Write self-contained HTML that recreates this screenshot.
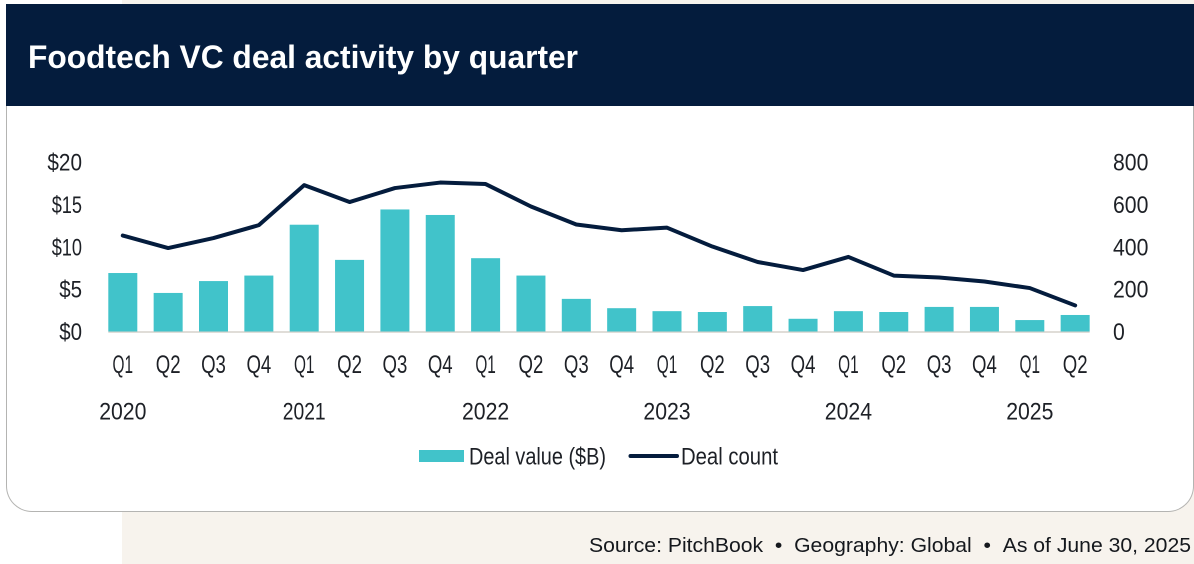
<!DOCTYPE html>
<html lang="en">
<head>
<meta charset="utf-8">
<title>Foodtech VC deal activity by quarter</title>
<style>
html,body{margin:0;padding:0;background:#fff;}
body{width:1194px;height:564px;overflow:hidden;position:relative;font-family:"Liberation Sans",sans-serif;}
#beige{position:absolute;left:122px;top:0;width:1072px;height:564px;background:#f7f3ed;}
#card{position:absolute;left:6px;top:4px;width:1186px;height:507px;background:#fff;border:1px solid #b4b4b2;border-top:none;border-radius:0 0 26px 26px;}
svg{position:absolute;left:0;top:0;}
text{font-family:"Liberation Sans Narrow","Liberation Sans",sans-serif;fill:#1d2026;}
</style>
</head>
<body>
<div id="beige"></div>
<div id="card"></div>
<svg id="chart" width="1194" height="564" viewBox="0 0 1194 564">
  <rect x="6" y="4" width="1188" height="102" fill="#041c3d"/>
  <text x="28" y="68" font-size="32" font-weight="700" textLength="550" lengthAdjust="spacingAndGlyphs" style="fill:#fff;font-family:'Liberation Sans',sans-serif">Foodtech VC deal activity by quarter</text>
  <rect x="419" y="450" width="45" height="12" fill="#41c3ca"/>
  <text x="469" y="464.500" font-size="24" textLength="137" lengthAdjust="spacingAndGlyphs">Deal value ($B)</text>
  <line x1="630.500" y1="456" x2="677" y2="456" stroke="#041c3d" stroke-width="4" stroke-linecap="round"/>
  <text x="681" y="464.500" font-size="24" textLength="97" lengthAdjust="spacingAndGlyphs">Deal count</text>
  <text x="589" y="552" font-size="20" textLength="602" lengthAdjust="spacingAndGlyphs" style="fill:#15181d;font-family:'Liberation Sans',sans-serif">Source: PitchBook&#160;&#160;•&#160;&#160;Geography: Global&#160;&#160;•&#160;&#160;As of June 30, 2025</text>
</svg>
<script>
const quarters = ['Q1','Q2','Q3','Q4','Q1','Q2','Q3','Q4','Q1','Q2','Q3','Q4','Q1','Q2','Q3','Q4','Q1','Q2','Q3','Q4','Q1','Q2'];
const years = ['2020','','','','2021','','','','2022','','','','2023','','','','2024','','','','2025',''];
const dealValue = [6.9,4.55,5.95,6.6,12.6,8.45,14.4,13.75,8.65,6.6,3.85,2.75,2.4,2.3,3.0,1.5,2.4,2.3,2.9,2.9,1.35,1.95];
const dealCount = [453,394,441,502,691,611,677,703,696,590,505,478,490,401,328,290,352,264,255,236,205,123];
const leftTicks = [0,5,10,15,20];
const rightTicks = [0,200,400,600,800];

const svg = document.getElementById('chart');
const NS = 'http://www.w3.org/2000/svg';
const baseY = 331.5, topY = 162, firstX = 122.8, stepX = 45.35, barW = 29;
const xPos = i => firstX + i * stepX;
const yLeft = v => baseY - (v / 20) * (baseY - topY);
const yRight = v => baseY - (v / 800) * (baseY - topY);
const charW = {Q:13, $:11, '1':7.5};
const labelW = s => [...String(s)].reduce((a, c) => a + (charW[c] || 11.8), 0);

function addText(str, x, y, anchor, size) {
  const t = document.createElementNS(NS, 'text');
  t.textContent = str;
  t.setAttribute('x', x);
  t.setAttribute('y', y);
  t.setAttribute('font-size', size);
  t.setAttribute('text-anchor', anchor);
  t.setAttribute('textLength', labelW(str));
  t.setAttribute('lengthAdjust', 'spacingAndGlyphs');
  svg.appendChild(t);
  return t;
}

const axis = document.createElementNS(NS, 'line');
axis.setAttribute('x1', xPos(0) - barW / 2);
axis.setAttribute('x2', xPos(quarters.length - 1) + barW / 2);
axis.setAttribute('y1', baseY + 0.5);
axis.setAttribute('y2', baseY + 0.5);
axis.setAttribute('stroke', '#d6d2cc');
axis.setAttribute('stroke-width', 1.5);


svg.appendChild(axis);

dealValue.forEach((v, i) => {
  const r = document.createElementNS(NS, 'rect');
  r.setAttribute('x', xPos(i) - barW / 2);
  r.setAttribute('y', yLeft(v));
  r.setAttribute('width', barW);
  r.setAttribute('height', baseY - yLeft(v));
  r.setAttribute('fill', '#41c3ca');
  
  
  svg.appendChild(r);
});

const line = document.createElementNS(NS, 'polyline');
line.setAttribute('points', dealCount.map((v, i) => xPos(i) + ',' + yRight(v)).join(' '));
line.setAttribute('fill', 'none');
line.setAttribute('stroke', '#041c3d');
line.setAttribute('stroke-width', 4);
line.setAttribute('stroke-linecap', 'round');
line.setAttribute('stroke-linejoin', 'round');


svg.appendChild(line);

leftTicks.forEach(v => {
  const t = addText('$' + v, 82, yLeft(v) + 8.5, 'end', 24);
  
  
});
rightTicks.forEach(v => {
  const t = addText(String(v), 1113, yRight(v) + 8.5, 'start', 24);
  
  
});
quarters.forEach((q, i) => {
  const t = addText(q, xPos(i), 373, 'middle', 25);
  
  
});
years.forEach((y, i) => {
  if (!y) return;
  const t = addText(y, xPos(i), 419.500, 'middle', 24);
  
  
});
</script>
</body>
</html>
